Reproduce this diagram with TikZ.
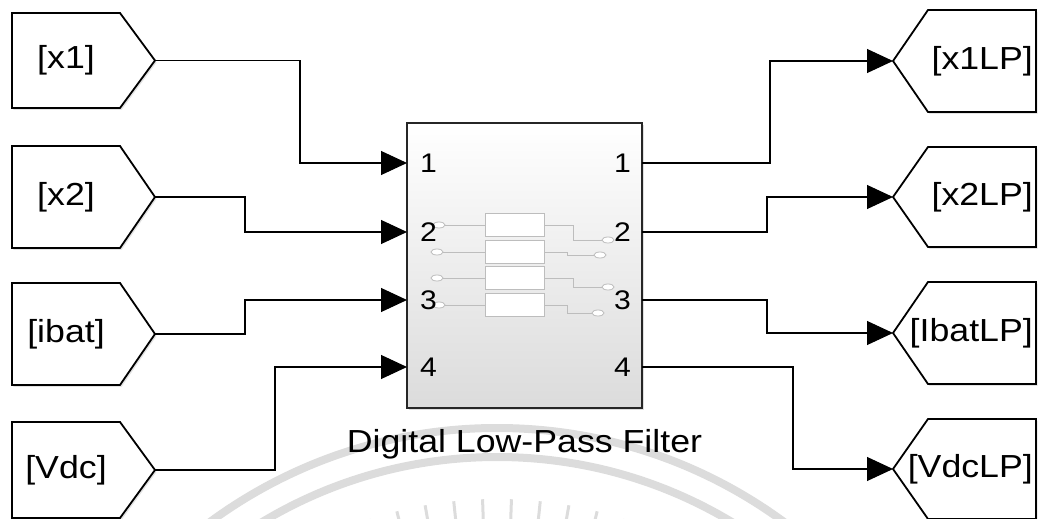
\documentclass[tikz,border=0pt]{standalone}
\usepackage{fontspec}
\setmainfont[FakeStretch=1.12]{Liberation Sans}
\usepackage{tikz}
\usetikzlibrary{arrows.meta,shadows}
\definecolor{wmk}{HTML}{DCDCDC}
\definecolor{ico}{HTML}{BDBDBD}
\tikzset{
  >={Triangle[length=26bp,width=24bp]},
  tag/.style={draw=black,line width=1.8bp,fill=white,drop shadow={opacity=.22,shadow xshift=1.5pt,shadow yshift=-2pt}},
  tagtxt/.style={font=\fontsize{32}{36}\selectfont,inner sep=0pt},
  blk/.style={draw=black!85,line width=2bp,top color=white,bottom color=black!14,minimum width=235bp,minimum height=285bp,inner sep=0pt,drop shadow={opacity=.25,shadow xshift=2pt,shadow yshift=-2.5pt}},
  port/.style={font=\fontsize{27}{30}\selectfont,inner sep=0pt},
  sig/.style={->,line width=1.1bp},
  wmark/.style={draw=wmk,line width=8bp},
  icobox/.style={draw=ico,line width=.8bp,fill=white},
  icoln/.style={draw=ico,line width=.8bp},
}
\begin{document}
\begin{tikzpicture}[x=1bp,y=-1bp]
\useasboundingbox (0,0) rectangle (1038,519);
% faint watermark
\begin{scope}
\clip (0,0) rectangle (1038,519);
\draw[wmark] (497,913) circle (485);
\draw[wmark] (497,913) circle (456);
\foreach \a in {252,256,...,288} \draw[draw=wmk,line width=3bp] (497,913) ++(\a:394) -- ++(\a:20);
\end{scope}
% From tags (left)
\foreach \n/\t/\y/\h in {1/{[x1]}/60.5/47.5, 2/{[x2]}/197/51, 3/{[ibat]}/334/51, 4/{[Vdc]}/470/48}{
  \draw[tag] (12,\y-\h) -- (120,\y-\h) -- (155,\y) -- (120,\y+\h) -- (12,\y+\h) -- cycle;
  \node[tagtxt] (from\n) at (66,\y) {\t};
  \coordinate (src\n) at (155,\y);
}
% Goto tags (right)
\foreach \n/\t/\y/\h in {1/{[x1LP]}/61/51, 2/{[x2LP]}/197/50, 3/{[IbatLP]}/333/51, 4/{[VdcLP]}/469/50}{
  \draw[tag] (1036,\y-\h) -- (928,\y-\h) -- (893,\y) -- (928,\y+\h) -- (1036,\y+\h) -- cycle;
  \node[tagtxt,anchor=east] (goto\n) at (1033,\y) {\t};
  \coordinate (dst\n) at (893,\y);
}
% subsystem block
\node[blk] (filt) at (524.5,265.5) {};
\node[font=\fontsize{32}{36}\selectfont,anchor=base] (lbl) at (524.5,452) {Digital Low-Pass Filter};
% block icon
\foreach \y/\k/\d/\o/\li in {225/573/240/608/439, 252/567/255/600/437, 278/573/287/608/437, 305/567/313/598/439}{
  \draw[icoln] (\li+6,\y) -- (485,\y);
  \draw[icoln] (544,\y) -- (\k,\y) -- (\k,\d) -- (\o-6,\d);
  \draw[icobox] (485,\y-11.5) rectangle (544,\y+11.5);
  \draw[icoln,fill=white] (\li,\y) ellipse [x radius=6,y radius=3];
  \draw[icoln,fill=white] (\o,\d) ellipse [x radius=6,y radius=3];
}
% ports
\foreach \n/\y in {1/163, 2/232, 3/300, 4/367}{
  \coordinate (in\n) at (407,\y);
  \coordinate (out\n) at (642,\y);
  \node[port,anchor=west] (pi\n) at (420,\y) {\n};
  \node[port,anchor=east] (po\n) at (631,\y) {\n};
}
% signals
\draw[sig] (src1) -- ++(145,0) |- (in1);
\draw[sig] (src2) -- ++(90,0) |- (in2);
\draw[sig] (src3) -- ++(90,0) |- (in3);
\draw[sig] (src4) -- ++(120,0) |- (in4);
\draw[sig] (out1) -- ++(128,0) |- (dst1);
\draw[sig] (out2) -- ++(125,0) |- (dst2);
\draw[sig] (out3) -- ++(125,0) |- (dst3);
\draw[sig] (out4) -- ++(151,0) |- (dst4);
\end{tikzpicture}
\end{document}
